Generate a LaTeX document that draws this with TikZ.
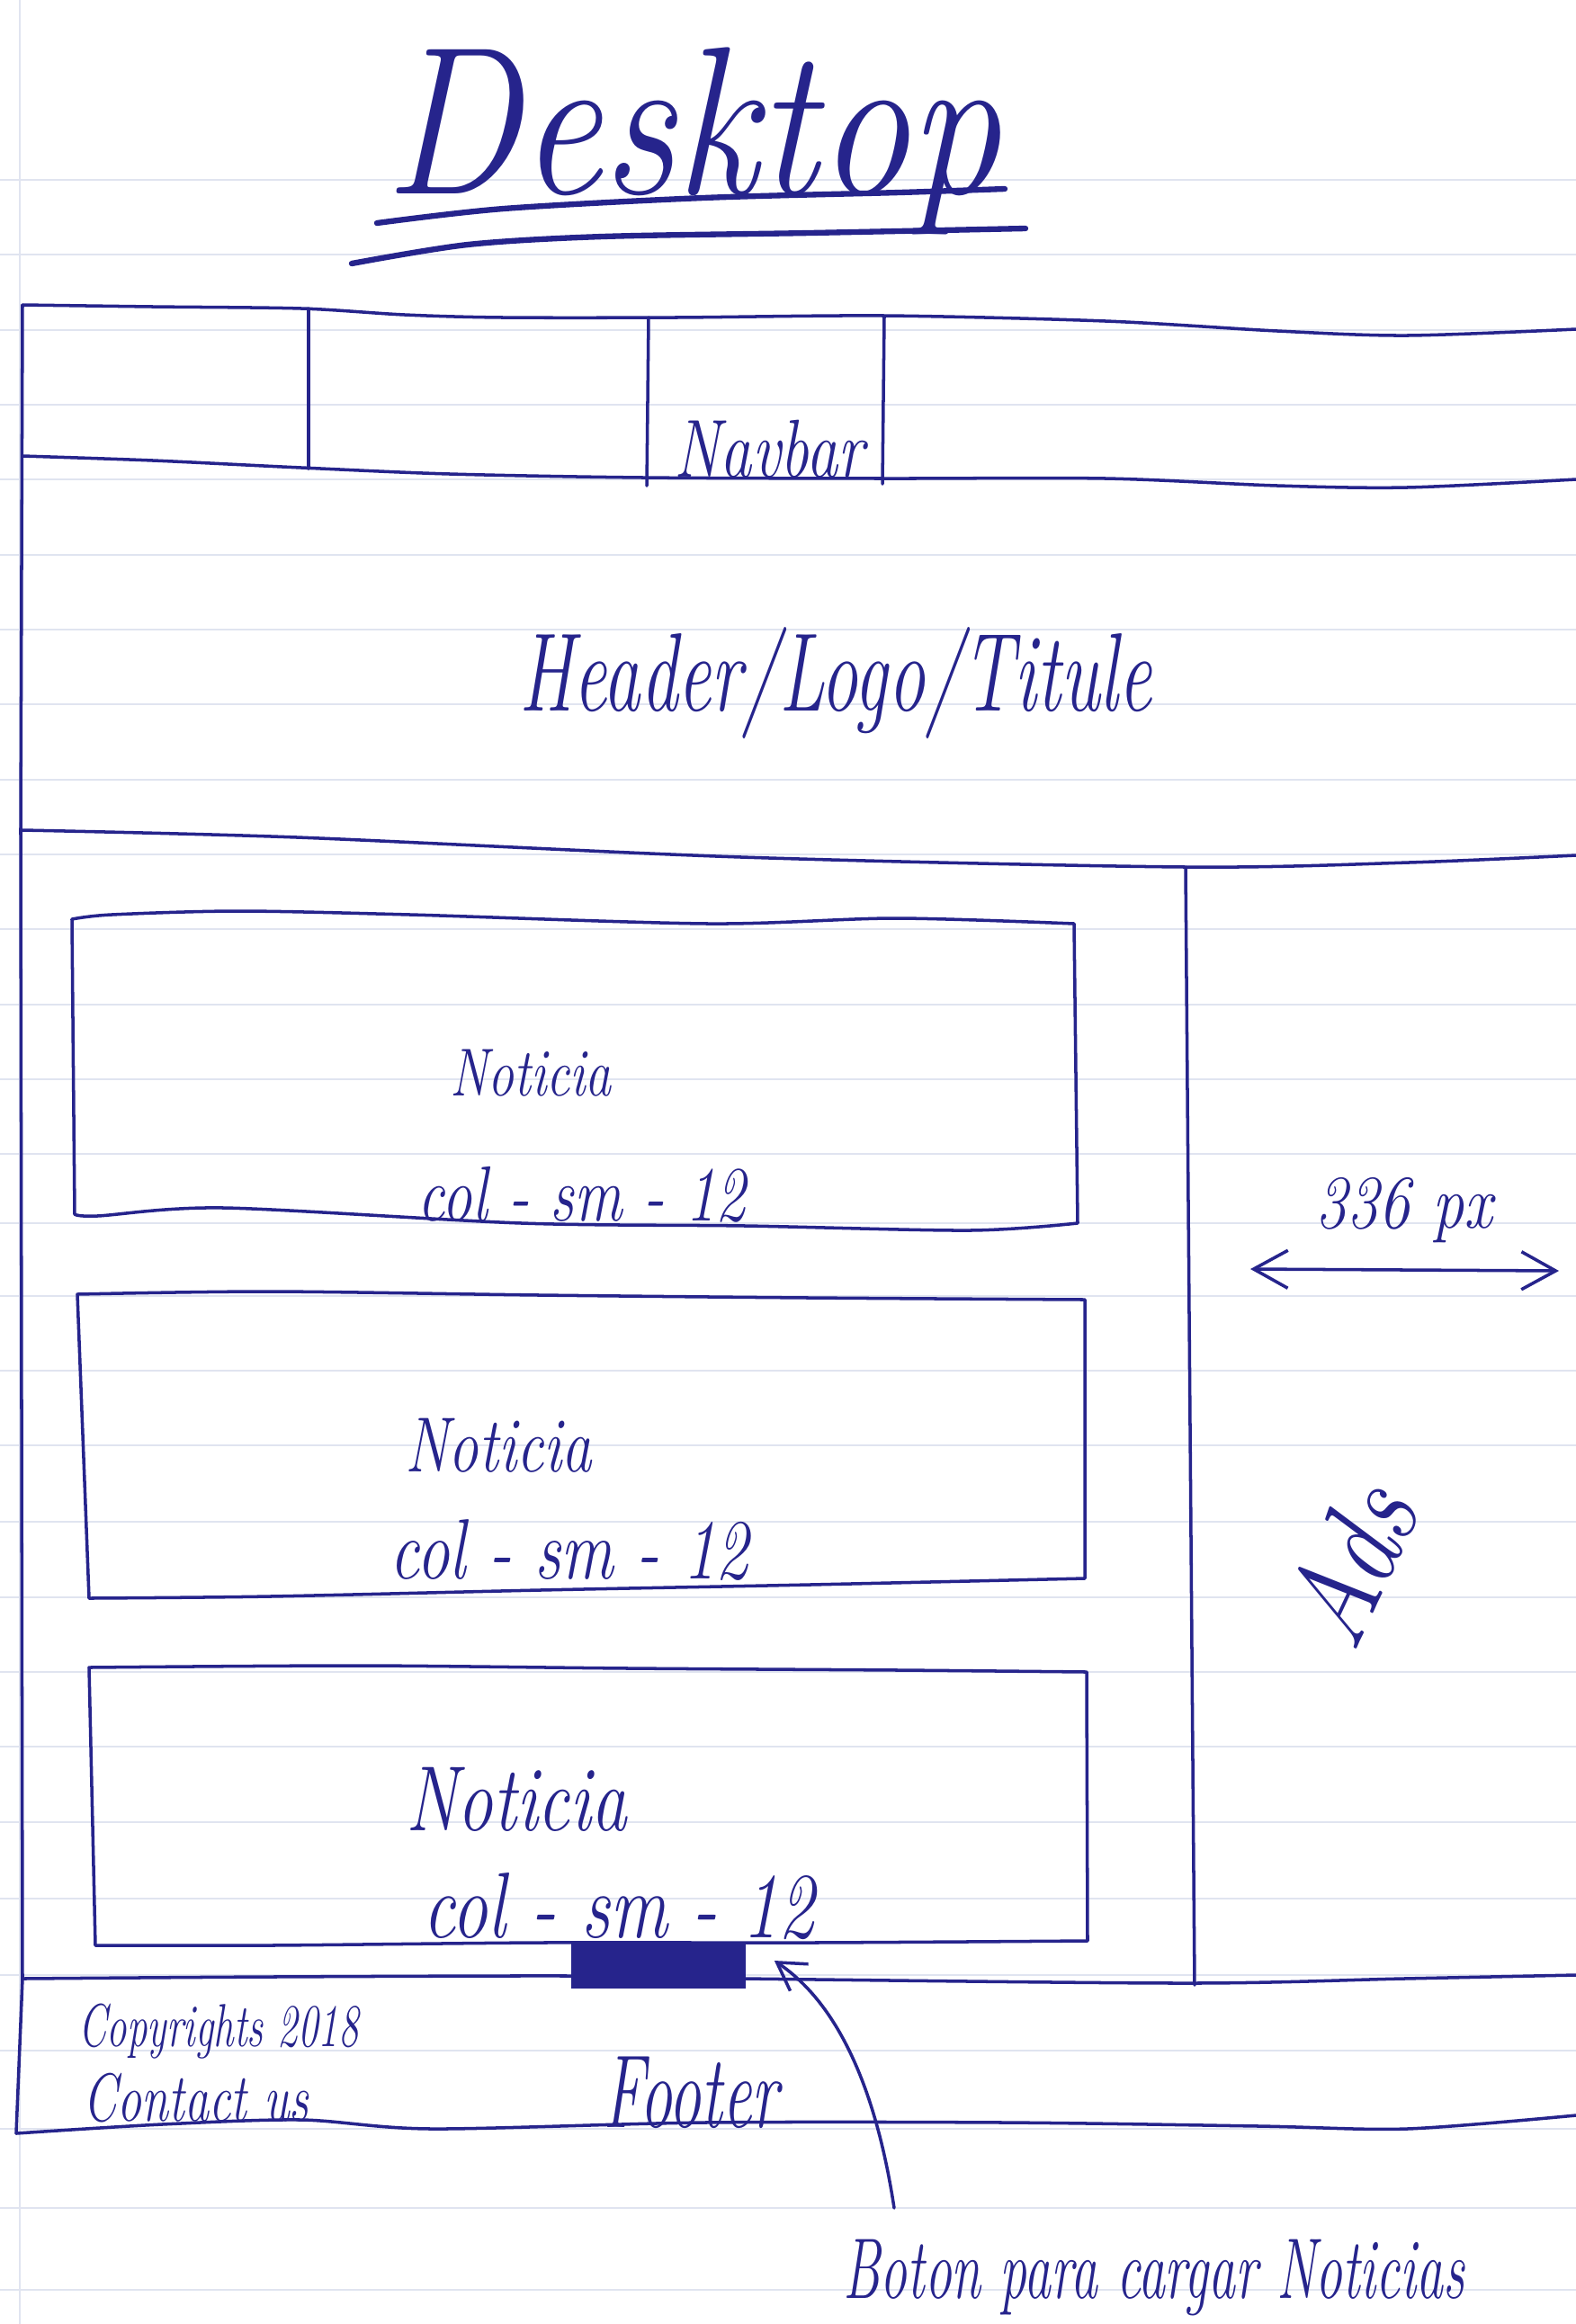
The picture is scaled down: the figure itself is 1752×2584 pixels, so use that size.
\documentclass[tikz,border=0pt]{standalone}
\usetikzlibrary{arrows.meta,calc}
\definecolor{ink}{RGB}{38,36,140}
\definecolor{paperrule}{RGB}{224,228,240}
\newcommand{\inkstretch}[2]{\scalebox{1}[#1]{#2}}

\begin{document}
\begin{tikzpicture}[x=0.01cm,y=-0.01cm,
  pen/.style={draw=ink, line width=1pt, line cap=round, line join=round},
  thickpen/.style={pen, line width=1.8pt},
  hand/.style={text=ink, inner sep=0pt, anchor=base},
  barb/.style={-{Straight Barb[length=3mm,width=3.6mm]}},
]
\useasboundingbox (0,0) rectangle (1752,2584);
\fill[white] (0,0) rectangle (1752,2584);

% ruled notebook paper
\foreach \y in {200,283,367,450,533,617,700,783,867,950,1033,1117,1200,1283,
                1360,1441,1524,1607,1692,1776,1859,1942,2026,2111,2196,2280,2367,2455,2546}
  \draw[paperrule, line width=0.6pt] (0,\y) -- (1752,\y);
\draw[paperrule, line width=0.6pt] (22,0) -- (22,2584);

% title
\node[hand, font=\itshape\fontsize{58}{60}\selectfont] (title) at (770,215) {\inkstretch{1.15}{Desktop}};
\draw[thickpen] plot[smooth] coordinates {(419,248) (560,232) (782,220) (1000,214) (1117,210)};
\draw[thickpen] plot[smooth] coordinates {(391,293) (520,272) (670,263) (900,259) (1140,254)};

% page frame: left edge
\draw[pen] (25,339) -- (23,923) -- (25,2200) -- (18,2372);

% navbar
\draw[pen] plot[smooth] coordinates {(25,339) (170,341) (335,343) (450,350) (559,353) (750,353) (983,351) (1229,357) (1420,368) (1564,373) (1752,366)};
\draw[pen] plot[smooth] coordinates {(25,507) (170,512) (335,520) (500,527) (715,531) (983,532) (1229,532) (1420,540) (1564,542) (1752,533)};
\draw[pen] (343,343) -- (343,521);
\draw[pen] (721,353) -- (719,540);
\draw[pen] (983,352) -- (981,538);
\node[hand, font=\itshape\fontsize{20}{22}\selectfont] (navbar) at (855,530) {\inkstretch{1.3}{Navbar}};

% header
\node[hand, font=\itshape\fontsize{23.5}{26}\selectfont] (header) at (929,790) {\inkstretch{1.5}{Header/Logo/Titule}};
\draw[pen] plot[smooth] coordinates {(25,923) (330,931) (824,953) (1318,964) (1566,959) (1752,951)};

% ads column
\draw[pen] (1318,964) -- (1328,2207);
\coordinate (wl) at (1390,1411);
\coordinate (wr) at (1733,1413);
\draw[pen, {Straight Barb[length=3.8mm,width=4.2mm]}-{Straight Barb[length=3.8mm,width=4.2mm]}] (wl) -- (wr);
\node[hand, font=\itshape\fontsize{20}{24}\selectfont] (width) at (1561,1365) {\inkstretch{1.2}{336 px}};
\node[text=ink, inner sep=0pt, rotate=65, font=\itshape\fontsize{32}{36}\selectfont] (ads) at (1500,1739) {\inkstretch{1.2}{Ads}};

% news boxes
\draw[pen] plot[smooth] coordinates {(80,1022) (124,1017) (265,1013) (456,1017) (788,1027) (995,1021) (1194,1027)}
  -- plot[smooth] coordinates {(1198,1360) (1078,1368) (829,1363) (580,1360) (249,1343) (108,1352) (83,1350)} -- cycle;
\node[hand, font=\itshape\fontsize{16.5}{20}\selectfont] (n1) at (590,1218) {\inkstretch{1.3}{Noticia}};
\node[hand, font=\itshape\fontsize{19}{22}\selectfont] (c1) at (647,1357) {\inkstretch{1.3}{col - sm - 12}};

\draw[pen] plot[smooth] coordinates {(86,1439) (300,1436) (600,1440) (900,1443) (1206,1445)}
  -- plot[smooth] coordinates {(1206,1755) (900,1762) (600,1768) (300,1775) (99,1777)} -- cycle;
\node[hand, font=\itshape\fontsize{19}{22}\selectfont] (n2) at (554,1636) {\inkstretch{1.3}{Noticia}};
\node[hand, font=\itshape\fontsize{20.8}{24}\selectfont] (c2) at (633,1755) {\inkstretch{1.3}{col - sm - 12}};

\draw[pen] plot[smooth] coordinates {(99,1854) (400,1852) (700,1855) (1000,1857) (1208,1859)}
  -- plot[smooth] coordinates {(1209,2158) (900,2160) (600,2160) (300,2163) (106,2163)} -- cycle;
\node[hand, font=\itshape\fontsize{22.5}{26}\selectfont] (n3) at (574,2035) {\inkstretch{1.3}{Noticia}};
\node[hand, font=\itshape\fontsize{22.7}{26}\selectfont] (c3) at (688,2154) {\inkstretch{1.3}{col - sm - 12}};

% load-more button
\node[draw=ink, fill=ink, line width=1pt, minimum width=1.9cm, minimum height=0.47cm, inner sep=0pt] (btn) at (732,2186) {};

% footer
\draw[pen] plot[smooth] coordinates {(25,2200) (300,2198) (637,2197) (827,2200) (1318,2205) (1560,2200) (1752,2196)};
\draw[pen] plot[smooth] coordinates {(18,2372) (180,2362) (335,2357) (480,2367) (782,2360) (1117,2360) (1400,2364) (1564,2367) (1752,2352)};
\node[hand, font=\itshape\fontsize{12.8}{14}\selectfont] (copy) at (243,2275) {\inkstretch{1.5}{Copyrights 2018}};
\node[hand, font=\itshape\fontsize{15.4}{18}\selectfont] (contact) at (218,2358) {\inkstretch{1.4}{Contact us}};
\node[hand, font=\itshape\fontsize{20.5}{24}\selectfont] (footer) at (768,2365) {\inkstretch{1.6}{Footer}};

% callout for the button
\node[hand, font=\itshape\fontsize{17}{20}\selectfont] (btnlabel) at (1283,2555) {\inkstretch{1.6}{Boton para cargar Noticias}};
\coordinate (tail) at (994,2455);
\coordinate (tip) at ([xshift=0.32cm,yshift=0.06cm]btn.east);
\draw[pen, barb] (tail) .. controls (975,2330) and (935,2230) .. (tip);
\end{tikzpicture}
\end{document}
